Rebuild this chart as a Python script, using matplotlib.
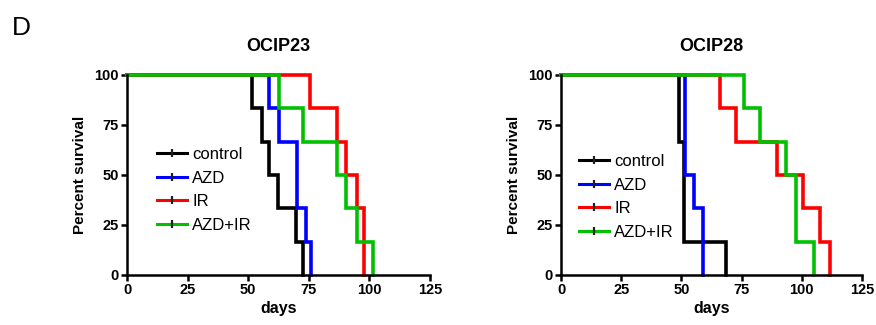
import matplotlib
matplotlib.use("Agg")
import matplotlib.pyplot as plt
from matplotlib.lines import Line2D
import numpy as np

plt.rcParams['font.family'] = ['Liberation Sans', 'DejaVu Sans']

groups = ["control", "AZD", "IR", "AZD+IR"]
colors = ["#000000", "#0000ff", "#ff0000", "#00c000"]

# death times (days)
ocip23_control = [51.5, 55.5, 58.5, 62.3, 69.7, 72.7]
ocip23_azd = [58.5, 62.7, 70.3, 70.3, 73.8, 76.0]
ocip23_ir = [75.7, 86.7, 90.5, 94.9, 97.8, 97.8]
ocip23_azdir = [62.7, 72.5, 86.7, 90.5, 94.9, 101.5]

ocip28_control = [49.0, 49.0, 51.2, 51.2, 51.2, 68.6]
ocip28_azd = [51.6, 51.6, 51.6, 55.1, 58.8, 58.8]
ocip28_ir = [65.9, 72.8, 89.7, 100.5, 107.7, 111.8]
ocip28_azdir = [75.8, 82.8, 93.6, 97.7, 97.7, 104.9]

xticks = [0, 25, 50, 75, 100, 125]
yticks = [0, 25, 50, 75, 100]

panels = [
    ("OCIP23", [ocip23_control, ocip23_azd, ocip23_ir, ocip23_azdir]),
    ("OCIP28", [ocip28_control, ocip28_azd, ocip28_ir, ocip28_azdir]),
]

def km(times):
    times = np.sort(np.asarray(times, float))
    n = len(times)
    xs = [0.0]
    ys = [100.0]
    for t in np.unique(times):
        xs.append(t)
        ys.append(100.0 * np.sum(times > t) / n)
    return xs, ys

W, H = 876, 325
fig = plt.figure(figsize=(W / 100, H / 100), dpi=100)

axes_px = [(127, 430), (561, 862)]
top_px, bot_px = 75, 275
legend_pos = [(0.10, 0.64), (0.06, 0.605)]

for (title, series), (x0, x1), lpos in zip(panels, axes_px, legend_pos):
    ax = fig.add_axes([x0 / W, 1 - bot_px / H, (x1 - x0) / W, (bot_px - top_px) / H])
    handles = []
    for times, c, g in zip(series, colors, groups):
        xs, ys = km(times)
        ax.step(xs, ys, where='post', color=c, lw=2.6, solid_joinstyle='miter', clip_on=False)
        handles.append(Line2D([0], [0], color=c, lw=2.2, marker='|', markersize=6,
                              markeredgewidth=1.6, markeredgecolor='#202020', label=g))
    ax.set_xlim(0, 125)
    ax.set_ylim(0, 100)
    ax.set_xticks(xticks)
    ax.set_yticks(yticks)
    ax.tick_params(direction='out', length=4, width=1.8, labelsize=10.5, pad=2)
    for lab in ax.get_xticklabels() + ax.get_yticklabels():
        lab.set_fontweight('bold')
    for s in ['top', 'right']:
        ax.spines[s].set_visible(False)
    for s in ['left', 'bottom']:
        ax.spines[s].set_linewidth(1.8)
    ax.set_title(title, fontsize=13, fontweight='bold', pad=17)
    ax.set_xlabel("days", fontsize=11.5, fontweight='bold', labelpad=3)
    ax.set_ylabel("Percent survival", fontsize=11, fontweight='bold', labelpad=5)
    ax.legend(handles=handles, loc='upper left', bbox_to_anchor=lpos, frameon=False,
              fontsize=12, handlelength=1.8, handletextpad=0.3, labelspacing=0.52,
              borderaxespad=0, borderpad=0)

fig.text(12 / W, 1 - 28 / H, "D", fontsize=19, va='center', ha='left')

fig.savefig("out.png", dpi=100)
